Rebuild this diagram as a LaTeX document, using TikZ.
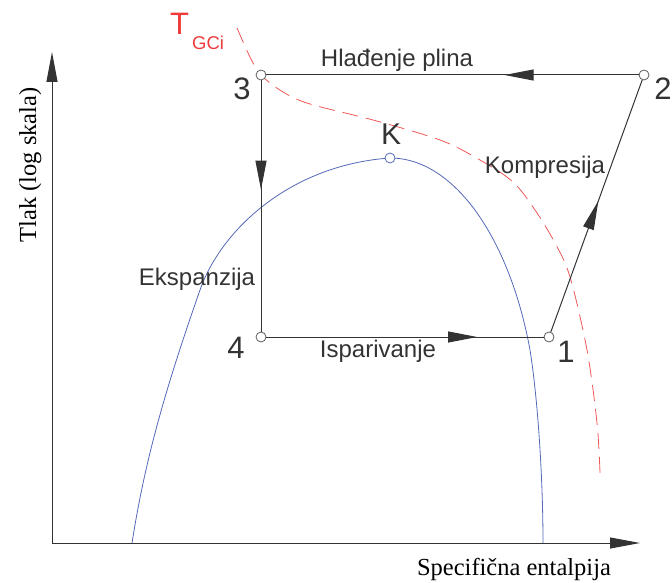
\documentclass[tikz,border=0pt]{standalone}
\usepackage{fontspec}
\setmainfont{Liberation Serif}
\newfontfamily\labfont{Liberation Sans}
\usetikzlibrary{arrows.meta,decorations.markings}
\definecolor{linegray}{HTML}{333333}
\definecolor{curveblue}{HTML}{5468B8}
\definecolor{tred}{HTML}{EE3A3A}
\tikzset{
  statept/.style={circle,draw=linegray!80,fill=white,line width=0.8pt,inner sep=0pt,minimum size=10pt},
  cyc/.style={draw=linegray,line width=1pt},
  midarrow/.style={postaction={decorate},decoration={markings,mark=at position #1 with {\arrow{Triangle[length=29pt,width=11pt]}}}},
  lab/.style={font=\labfont\fontsize{24}{28}\selectfont,text=linegray,inner sep=0pt,anchor=base},
  numlab/.style={font=\labfont\fontsize{31}{34}\selectfont,text=linegray,inner sep=0pt,anchor=base},
  axlab/.style={font=\fontsize{24.5}{28}\selectfont,text=black,inner sep=0pt,anchor=base},
  axis/.style={draw=linegray,line width=1pt,-{Triangle[length=30pt,width=11pt]}}
}
\begin{document}
\begin{tikzpicture}[x=1pt,y=-1pt]
\useasboundingbox (0,0) rectangle (672,583);
% axes
\coordinate (origin) at (52,543);
\coordinate (ytip) at (52,52);
\coordinate (xtip) at (640,543);
\draw[axis] (origin) -- (ytip);
\draw[axis] (origin) -- (xtip);
\node[axlab] (xlabel) at (514,575) {Specifična entalpija};
\node[axlab,rotate=90] (ylabel) at (36,165) {Tlak (log skala)};
% saturation dome
\draw[curveblue,line width=0.8pt] (132,543)
  .. controls (145,460) and (165,390) .. (200,290)
  .. controls (221,230) and (290,165) .. (390,158)
  .. controls (455,158) and (510,240) .. (530,350)
  .. controls (538,400) and (543,480) .. (543,543);
% isotherm T_GCi
\draw[tred!85,line width=0.8pt,dash pattern=on 16pt off 8pt] plot[smooth,tension=0.55] coordinates {
 (237,28) (250,57) (261,75) (283,92) (310,104) (373,120) (440,140) (480,160) (513,182) (535,210) (555,243) (570,277) (587,350) (597,423) (600,473)};
% state points
\node[statept] (p3) at (261,75) {};
\node[statept] (p2) at (644,75) {};
\node[statept] (p4) at (261,337) {};
\node[statept] (p1) at (549,337) {};
\node[statept,draw=curveblue] (k) at (390,158) {};
% cycle
\draw[cyc,midarrow=0.36] (p2) -- (p3);
\draw[cyc,midarrow=0.435] (p3) -- (p4);
\draw[cyc,midarrow=0.76] (p4) -- (p1);
\draw[cyc,midarrow=0.52] (p1) -- (p2);
% labels
\node[lab] (lh) at (397,67) {Hlađenje plina};
\node[lab] (lk) at (545,173) {Kompresija};
\node[lab] (li) at (378,357) {Isparivanje};
\node[lab] (le) at (197,285) {Ekspanzija};
\node[numlab,font=\labfont\fontsize{30}{34}\selectfont] (lK) at (391,145) {K};
\node[numlab] (l3) at (242,100) {3};
\node[numlab] (l2) at (663,100) {2};
\node[numlab] (l4) at (236,358) {4};
\node[numlab] (l1) at (566,362) {1};
\node[font=\labfont\fontsize{31}{34}\selectfont,text=tred,inner sep=0pt,anchor=base west] (tg) at (170,35) {T};
\node[font=\labfont\fontsize{18.5}{20}\selectfont,text=tred,inner sep=0pt,anchor=base west] (tgs) at (192,50) {GCi};
\end{tikzpicture}
\end{document}
